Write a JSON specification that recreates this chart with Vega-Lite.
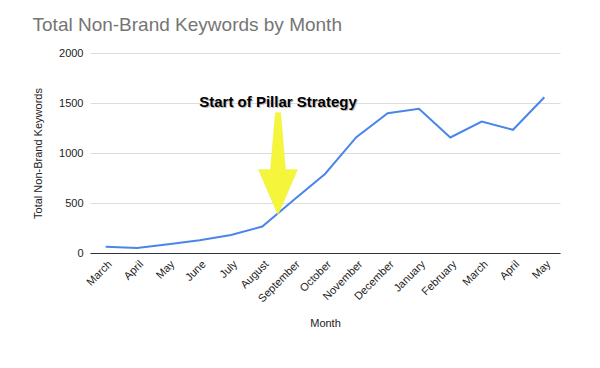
{
  "$schema": "https://vega.github.io/schema/vega-lite/v6.json",
  "autosize": {"type": "none"},
  "width": 470,
  "height": 200,
  "padding": {"left": 90, "top": 53, "right": 40, "bottom": 115},
  "background": "white",
  "title": {
    "text": "Total Non-Brand Keywords by Month",
    "anchor": "start",
    "frame": "bounds",
    "font": "Liberation Sans",
    "fontSize": 19,
    "fontWeight": "normal",
    "color": "#757575",
    "offset": 12
  },
  "config": {
    "view": {"stroke": null},
    "font": "Liberation Sans"
  },
  "datasets": {
    "series": [
      {"i": 0, "month": "March", "keywords": 62},
      {"i": 1, "month": "April", "keywords": 50},
      {"i": 2, "month": "May", "keywords": 88},
      {"i": 3, "month": "June", "keywords": 128},
      {"i": 4, "month": "July", "keywords": 180},
      {"i": 5, "month": "August", "keywords": 265},
      {"i": 6, "month": "September", "keywords": 530},
      {"i": 7, "month": "October", "keywords": 790},
      {"i": 8, "month": "November", "keywords": 1158},
      {"i": 9, "month": "December", "keywords": 1398},
      {"i": 10, "month": "January", "keywords": 1442},
      {"i": 11, "month": "February", "keywords": 1155},
      {"i": 12, "month": "March", "keywords": 1315},
      {"i": 13, "month": "April", "keywords": 1232},
      {"i": 14, "month": "May", "keywords": 1558}
    ],
    "note": [
      {"pos": 5.5, "label": "Start of Pillar Strategy", "labelY": 1515, "arrowY": 893}
    ]
  },
  "resolve": {"scale": {"x": "independent"}, "axis": {"x": "independent"}},
  "layer": [
    {
      "data": {"name": "series"},
      "mark": {"type": "line", "color": "#4a86e8", "strokeWidth": 2, "interpolate": "linear"},
      "encoding": {
        "x": {
          "field": "i",
          "type": "ordinal",
          "scale": {"type": "point", "padding": 0.5},
          "axis": {
            "labelExpr": "['March','April','May','June','July','August','September','October','November','December','January','February','March','April','May'][datum.value]",
            "labelAngle": -45,
            "labelOverlap": false,
            "labelFontSize": 11,
            "labelColor": "#222222",
            "ticks": false,
            "grid": false,
            "domainColor": "#333333",
            "domainWidth": 1,
            "labelPadding": 5,
            "title": "Month",
            "titleFontSize": 11,
            "titleFontWeight": "normal",
            "titleColor": "#222222",
            "titlePadding": 14
          }
        },
        "y": {
          "field": "keywords",
          "type": "quantitative",
          "scale": {"domain": [0, 2000], "nice": false},
          "axis": {
            "values": [0, 500, 1000, 1500, 2000],
            "format": "d",
            "labelFontSize": 11,
            "labelColor": "#222222",
            "ticks": false,
            "domain": false,
            "gridColor": "#dddddd",
            "labelPadding": 7,
            "title": "Total Non-Brand Keywords",
            "titleFontSize": 11,
            "titleFontWeight": "normal",
            "titleColor": "#222222",
            "titlePadding": 15
          }
        }
      }
    },
    {
      "data": {"name": "note"},
      "layer": [
        {
          "mark": {
            "type": "point",
            "filled": true,
            "shape": "M -0.05 -1 L 0.05 -1 L 0.147 0.118 L 0.38 0.118 L 0 1 L -0.38 0.118 L -0.147 0.118 Z",
            "size": 10404,
            "color": "#f5f53c",
            "opacity": 1,
            "stroke": "#eded30",
            "strokeWidth": 0.5
          },
          "encoding": {
            "x": {"field": "pos", "type": "quantitative", "scale": {"domain": [-0.5, 14.5], "nice": false, "zero": false}, "axis": null},
            "y": {"field": "arrowY", "type": "quantitative"}
          }
        },
        {
          "mark": {"type": "text", "font": "Liberation Sans", "fontSize": 15, "fontWeight": "bold", "color": "#bbbbbb", "dx": 1, "dy": 1.5},
          "encoding": {
            "x": {"field": "pos", "type": "quantitative", "axis": null},
            "y": {"field": "labelY", "type": "quantitative"},
            "text": {"field": "label"}
          }
        },
        {
          "mark": {"type": "text", "font": "Liberation Sans", "fontSize": 15, "fontWeight": "bold", "color": "#000000"},
          "encoding": {
            "x": {"field": "pos", "type": "quantitative", "axis": null},
            "y": {"field": "labelY", "type": "quantitative"},
            "text": {"field": "label"}
          }
        }
      ]
    }
  ]
}
